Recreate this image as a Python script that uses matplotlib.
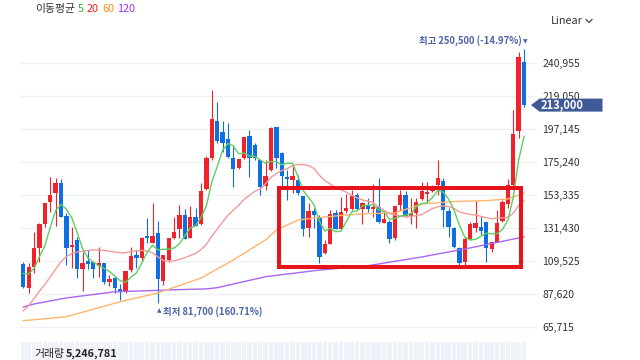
import matplotlib
matplotlib.use("Agg")
import matplotlib.pyplot as plt
import numpy as np
from matplotlib.patches import Polygon, Rectangle
from matplotlib.lines import Line2D

plt.rcParams['font.family'] = ['Noto Sans CJK KR', 'DejaVu Sans']

# ---------------- data (daily candles, KRW) ----------------
opens = [107700, 91400, 105300, 118400, 133900, 148900, 154900, 161100, 139600, 119000,
         123300, 104400, 109500, 108900, 106200, 108200, 95400, 98400, 90900, 88700,
         103500, 113500, 111300, 126100, 121700, 128300, 96200, 110200, 124600, 130600,
         140100, 125000, 138900, 133900, 157300, 178100, 202500, 195000, 190500, 177700,
         171100, 177700, 192700, 186500, 176600, 159300, 169900, 198700, 181000, 165100,
         163300, 163300, 152900, 131600, 142700, 138300, 114600, 120800, 141200, 130800,
         142700, 144000, 153300, 143800, 146500, 143800, 145200, 134900, 135600, 124600,
         146700, 153300, 139600, 141200, 150500, 154000, 156200, 160000, 162600, 142900,
         131600, 118000, 109100, 124100, 131600, 132300, 135600, 117500, 121900, 136100,
         147200, 160000, 195800, 241800]
highs = [109100, 108400, 129000, 134500, 148200, 165500, 164400, 163800, 141200, 132300,
         125700, 115700, 116800, 109100, 118600, 108200, 100200, 99100, 94300, 102900,
         119000, 116800, 125700, 138300, 148200, 136100, 113500, 124600, 138900, 146700,
         143800, 146000, 144900, 161100, 179200, 223000, 214900, 202500, 201300, 185400,
         177200, 191600, 196500, 188100, 176600, 176600, 198700, 198700, 182100, 169900,
         172800, 166600, 152900, 147800, 144500, 140100, 123500, 143400, 143400, 152200,
         154000, 156700, 154500, 148900, 151500, 160600, 164800, 141200, 136700, 146000,
         156700, 156000, 151100, 151100, 162200, 162200, 160000, 176600, 164400, 144500,
         132300, 119000, 125700, 135600, 149400, 139600, 135600, 122300, 143400, 150000,
         163800, 209800, 248300, 250500]
lows = [91400, 88500, 101400, 109100, 132300, 142200, 133000, 138900, 106900, 104700,
        98000, 89800, 104400, 98000, 99100, 94300, 92900, 88100, 83600, 88100,
        102400, 104700, 109100, 121700, 121300, 81700, 93600, 109100, 123900, 124600,
        124100, 124600, 133000, 133400, 156700, 176600, 188100, 182100, 177700, 158800,
        170600, 177000, 165100, 176600, 153300, 156700, 169500, 171100, 159300, 150000,
        154500, 153300, 126100, 125700, 131200, 108400, 114000, 120600, 130800, 130600,
        141600, 143400, 143400, 134100, 142200, 138500, 134900, 134500, 121300, 123500,
        143400, 138900, 133900, 131600, 150000, 147800, 155500, 153300, 132300, 125700,
        118000, 106400, 106400, 123500, 129000, 126800, 109100, 115700, 121900, 135600,
        144500, 158800, 191200, 211900]
closes = [92500, 105300, 118000, 134100, 148200, 153300, 161100, 138900, 118000, 120300,
          104000, 108000, 107300, 104400, 108400, 95400, 97600, 91800, 89100, 102900,
          112800, 111300, 124600, 125000, 126100, 97400, 113500, 124600, 129000, 140100,
          124100, 138900, 133000, 156000, 178100, 203600, 189200, 187700, 178800, 170600,
          177200, 191600, 177700, 177700, 158800, 165900, 197600, 178100, 166100, 164200,
          165900, 154500, 130800, 142700, 140100, 112400, 120800, 140500, 130800, 142200,
          144500, 152700, 143800, 147800, 144200, 145600, 135600, 137400, 123900, 146000,
          153300, 139600, 141200, 148500, 156000, 155500, 157300, 164400, 143400, 132300,
          119000, 108000, 123900, 134100, 134500, 129400, 118000, 121900, 134500, 148500,
          160000, 193600, 245100, 213000]
volume = [3100000, 3400000, 4200000, 4800000, 5600000, 6100000, 5200000, 4700000, 5900000, 4300000,
          3900000, 3600000, 2800000, 2600000, 3000000, 3300000, 2500000, 2700000, 2900000, 3800000,
          4100000, 3200000, 3900000, 4400000, 5000000, 6200000, 4600000, 3800000, 3500000, 4200000,
          3900000, 3600000, 3100000, 5300000, 6800000, 9100000, 7200000, 5400000, 4800000, 4500000,
          3600000, 4300000, 4700000, 3500000, 4400000, 3700000, 6000000, 5200000, 4100000, 3300000,
          3100000, 3000000, 4900000, 4200000, 3000000, 5100000, 3600000, 4300000, 3400000, 3800000,
          3200000, 3600000, 3100000, 2900000, 2600000, 3300000, 3500000, 2400000, 3100000, 4000000,
          3900000, 3600000, 3000000, 3200000, 3700000, 2900000, 2500000, 4100000, 4300000, 3600000,
          3400000, 3800000, 3900000, 3300000, 3700000, 2800000, 3500000, 2600000, 3600000, 4000000,
          4700000, 8900000, 9800000, 5246781]

ma5_head = [101200, 100900, 104700, 112400]
ma20_head = [76500, 80000, 84500, 89500, 94000, 99000, 104000, 109000, 112500, 114500,
             115500, 116000, 116500, 116800, 116800, 116500, 116000, 115500, 115000]
ma60_idx = [0, 8, 18, 25, 33, 39, 45, 47, 51, 54, 60, 64, 69, 74, 80, 86, 90, 92, 93]
ma60_val = [69900, 72500, 82500, 88300, 98200, 110200, 123500, 130100, 136700, 138000,
            140100, 141000, 141400, 147400, 149000, 149600, 150700, 153300, 154600]
ma120_idx = [0, 2, 8, 17, 23, 27, 34, 36, 45, 55, 64, 74, 83, 92, 93]
ma120_val = [79000, 81000, 85000, 89100, 89800, 90300, 91000, 91800, 99100, 103500,
             106400, 112200, 118200, 124800, 125500]

y_ticks = [65715, 87620, 109525, 131430, 153335, 175240, 197145, 219050, 240955]
box_idx = [47.4, 92.4]
box_price = [105500, 158000]

# ---------------- styles ----------------
UP = '#f0222b'
DOWN = '#0d6fe3'
C5, C20, C60, C120 = '#5fcf5f', '#f49a9a', '#ffb56e', '#a866f2'
TAGC = '#3f5a96'
ANNC = '#4a64a5'

W, H = 640, 360
fig = plt.figure(figsize=(6.4, 3.6), dpi=100)

def fx(px):
    return px / W

def fy(py):
    return 1 - py / H

ax = fig.add_axes([fx(20), fy(340), fx(537) - fx(20), fy(30) - fy(340)])
n = len(closes)
x = np.arange(n)

# moving averages
closes_arr = np.array(closes, dtype=float)
ma5 = [ma5_head[i] if i < 4 else closes_arr[i - 4:i + 1].mean() for i in range(n)]
ma20 = [ma20_head[i] if i < 19 else closes_arr[i - 19:i + 1].mean() for i in range(n)]

# candles
for i in range(n):
    o, h, l, c = opens[i], highs[i], lows[i], closes[i]
    col = UP if c >= o else DOWN
    ax.vlines(i, l, h, color=col, lw=0.8, zorder=3)
    bh = max(abs(c - o), 900)
    ax.bar(i, bh, bottom=min(o, c), width=0.8, color=col, lw=0, zorder=3)

ax.plot(ma120_idx, ma120_val, color=C120, lw=1.0, zorder=4)
ax.plot(ma60_idx, ma60_val, color=C60, lw=1.0, zorder=4)
ax.plot(x, ma20, color=C20, lw=1.0, zorder=4)
ax.plot(x, ma5, color=C5, lw=1.0, zorder=4)

# highlight rectangle
ax.add_patch(Rectangle((box_idx[0], box_price[0]), box_idx[1] - box_idx[0],
                       box_price[1] - box_price[0], fill=False, ec='#e8121a',
                       lw=2.9, zorder=6))

ax.set_xlim((20 - 23.3) / 5.384, (537 - 23.3) / 5.384)
ax.set_ylim(57082, 262860)
ax.set_yticks(y_ticks)
ax.set_yticklabels([f"{v:,}" for v in y_ticks])
ax.yaxis.tick_right()
ax.tick_params(axis='y', length=0, pad=4, labelsize=7.5, colors='#333333')
ax.set_xticks([])
ax.grid(axis='y', color='#eef0f4', lw=1, zorder=0)
for s in ax.spines.values():
    s.set_visible(False)

# high / low annotations
imax = int(np.argmax(highs))
imin = int(np.argmin(lows))
hi, lo, last = highs[imax], lows[imin], closes[-1]
ax.annotate(f"최고 {hi:,} ({(last - hi) / hi * 100:.2f}%)", (imax, hi),
            xytext=(-2, 3), textcoords='offset pixels', ha='right', va='bottom',
            fontsize=6.8, color=ANNC, fontweight='semibold', zorder=7)
ax.annotate("▼", (imax, hi), xytext=(1.5, 4.5), textcoords='offset pixels',
            ha='center', va='bottom', fontsize=4.2, color=ANNC,
            family=['DejaVu Sans'], zorder=7)
ax.annotate("▲", (imin, lo), xytext=(1, -5), textcoords='offset pixels',
            ha='center', va='top', fontsize=4.2, color=ANNC,
            family=['DejaVu Sans'], zorder=7)
ax.annotate(f"최저 {lo:,} ({(last - lo) / lo * 100:.2f}%)", (imin, lo),
            xytext=(5, -3), textcoords='offset pixels', ha='left', va='top',
            fontsize=6.8, color=ANNC, fontweight='semibold', zorder=7)

# last price tag
fig.canvas.draw()
py_disp = ax.transData.transform((0, last))[1]
ty = H - py_disp
tag = Polygon([(fx(531), fy(ty)), (fx(539.5), fy(ty - 6.5)), (fx(602.5), fy(ty - 6.5)),
               (fx(602.5), fy(ty + 6.5)), (fx(539.5), fy(ty + 6.5))],
              closed=True, transform=fig.transFigure, fc=TAGC, ec='none', zorder=10)
fig.patches.append(tag)
fig.text(fx(541), fy(ty), f"{last:,}", color='white', fontsize=8, fontweight='bold',
         ha='left', va='center', zorder=11)

# volume pane
vax = fig.add_axes([fx(20), 0, fx(537) - fx(20), fy(342)])
vax.bar(x, volume, width=0.85, color='#f0f2f9', lw=0)
vax.set_xlim(ax.get_xlim())
vax.set_ylim(0, 1500000)
vax.axis('off')
fig.text(fx(34), fy(354), "거래량", fontsize=7.8, color='#222222', ha='left', va='center')
fig.text(fx(66), fy(354), f"{volume[-1]:,}", fontsize=7.8, color='#222222',
         fontweight='bold', ha='left', va='center')

# legend header
fig.text(fx(35), fy(9), "이동평균", fontsize=7.8, color='#333333', ha='left', va='center')
for label, col, px in [("5", '#2db82d', 78), ("20", '#f02020', 87),
                       ("60", '#ff8a1a', 102), ("120", '#9933ff', 117)]:
    fig.text(fx(px), fy(9), label, fontsize=7.8, color=col, ha='left', va='center')

fig.text(fx(551), fy(21), "Linear", fontsize=7.8, color='#333333', ha='left', va='center')
fig.lines.append(Line2D([fx(586), fx(589), fx(592)], [fy(19.5), fy(22.5), fy(19.5)],
                        transform=fig.transFigure, color='#444444', lw=0.9))

fig.savefig("out.png", dpi=100)
